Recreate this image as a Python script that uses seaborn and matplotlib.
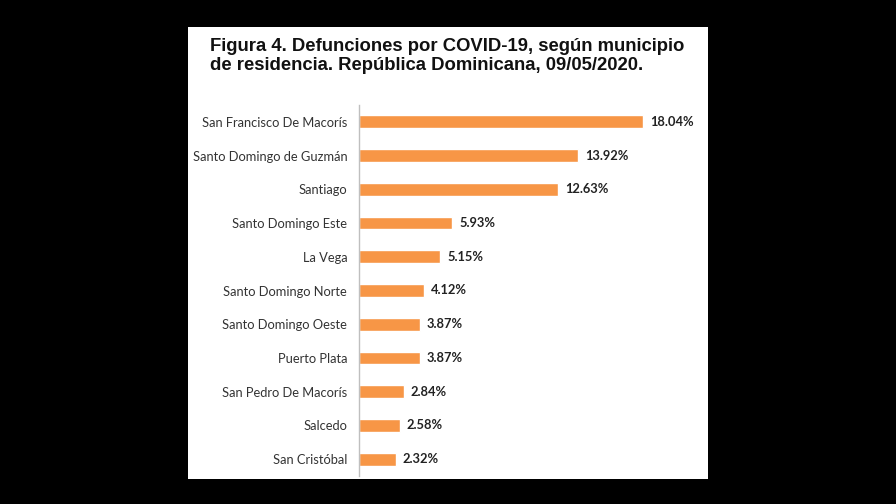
import matplotlib
matplotlib.use("Agg")
import matplotlib.pyplot as plt
import seaborn as sns
import pandas as pd
from matplotlib.patches import Rectangle

municipios = [
    "San Francisco De Macorís",
    "Santo Domingo de Guzmán",
    "Santiago",
    "Santo Domingo Este",
    "La Vega",
    "Santo Domingo Norte",
    "Santo Domingo Oeste",
    "Puerto Plata",
    "San Pedro De Macorís",
    "Salcedo",
    "San Cristóbal",
]
porcentajes = [18.04, 13.92, 12.63, 5.93, 5.15, 4.12, 3.87, 3.87, 2.84, 2.58, 2.32]

titulo = ("Figura 4. Defunciones por COVID-19, según municipio\n"
          "de residencia. República Dominicana, 09/05/2020.")

df = pd.DataFrame({"municipio": municipios, "pct": porcentajes})

sns.set_style("white")
label_font = ["Lato", "DejaVu Sans"]

fig = plt.figure(figsize=(8.96, 5.04), dpi=100)
fig.patch.set_facecolor("black")

# white page panel
fig.add_artist(Rectangle((188 / 896, 1 - 479 / 504), (708 - 188) / 896, (479 - 27) / 504,
                         transform=fig.transFigure, facecolor="white", edgecolor="none", zorder=0))

fig.text(210 / 896, 1 - 38 / 504, titulo, ha="left", va="top", fontsize=13.3,
         fontweight="bold", family=["Liberation Sans", "DejaVu Sans"], color="#111111",
         linespacing=1.15)

ax = fig.add_axes([359 / 896, 1 - 476 / 504, (700 - 359) / 896, (476 - 105) / 504])
ax.set_facecolor("none")
sns.barplot(data=df, x="pct", y="municipio", color="#F79646", width=0.38,
            saturation=1, ax=ax)

ax.set_xlim(0, (700 - 359) / 15.74)
ax.set_ylim(10.5, -0.5)
ax.set_xlabel("")
ax.set_ylabel("")
ax.set_xticks([])
for side in ["top", "right", "bottom"]:
    ax.spines[side].set_visible(False)
ax.spines["left"].set_color("#BFBFBF")
ax.spines["left"].set_linewidth(1.0)
ax.tick_params(axis="y", length=0, pad=8.5)
for lbl in ax.get_yticklabels():
    lbl.set_family(label_font)
    lbl.set_fontsize(9.3)
    lbl.set_color("#333333")

for i, v in enumerate(porcentajes):
    ax.text(v + 0.45, i, f"{v:.2f}%", va="center", ha="left", fontsize=9.3,
            fontweight="bold", family=label_font, color="#222222")

fig.savefig("out.png", dpi=100, facecolor=fig.get_facecolor())
